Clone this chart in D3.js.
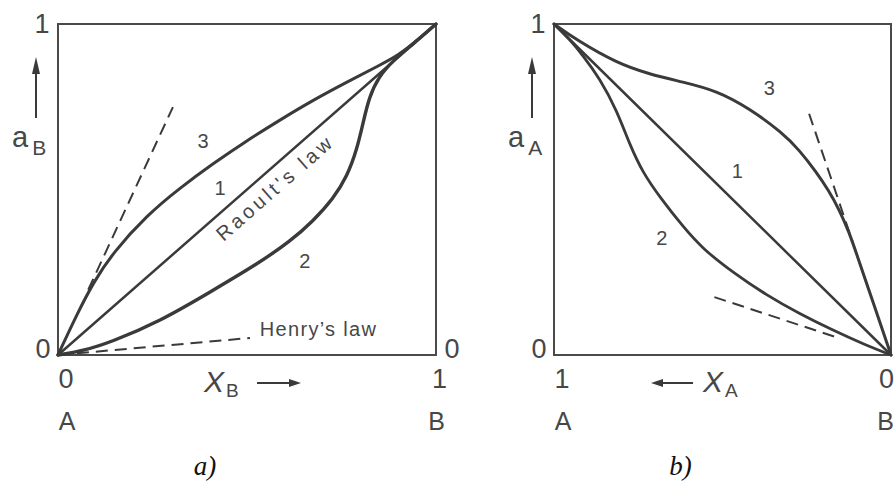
<!DOCTYPE html>
<html>
<head>
<meta charset="utf-8">
<script src="https://cdn.jsdelivr.net/npm/d3@7"></script>
<style>
  html, body { margin: 0; padding: 0; background: #ffffff; }
  svg { display: block; }
  .lbl { font-family: "Liberation Sans", "DejaVu Sans", Arial, sans-serif; fill: #474747; }
  .cap { font-family: "Liberation Serif", "DejaVu Serif", "Times New Roman", serif; font-style: italic; fill: #111; }
</style>
</head>
<body>
<svg id="chart" width="895" height="484"></svg>
<script>
// ---- Panel (a): activity of B against mole fraction X_B (0 at A, 1 at B) ----
const xTicksA = ["0", "1"];
const yTicksA = ["0", "1"];
const raoultA = [[0, 0], [1, 1]];                       // curve 1
const negDevA = [[0, 0], [0.07, 0.014], [0.138, 0.038], [0.27, 0.102], [0.402, 0.19],
                 [0.53, 0.277], [0.614, 0.343], [0.675, 0.405], [0.728, 0.472], [0.765, 0.54],
                 [0.791, 0.622], [0.807, 0.701], [0.823, 0.779], [0.848, 0.84], [0.886, 0.889],
                 [0.94, 0.94], [1, 1]];                  // curve 2
const posDevA = [[0, 0], [0.05, 0.123], [0.095, 0.222], [0.146, 0.31], [0.235, 0.422],
                 [0.323, 0.505], [0.41, 0.578], [0.5, 0.648], [0.587, 0.71], [0.675, 0.77],
                 [0.765, 0.825], [0.852, 0.876], [0.9, 0.905], [0.95, 0.95], [1, 1]];  // curve 3
const henryLowA = [[0, 0], [0.508, 0.0514]];            // Henry's law tangent of curve 2
const henryHighA = [[0.08, 0.197], [0.304, 0.749]];     // Henry's law tangent of curve 3

// ---- Panel (b): activity of A against mole fraction X_A (1 at A, 0 at B) ----
const xTicksB = ["1", "0"];
const yTicksB = ["0", "1"];
const raoultB = [[1, 1], [0, 0]];
const negDevB = [[1, 1], [0.955, 0.955], [0.914, 0.905], [0.864, 0.835], [0.814, 0.74],
                 [0.775, 0.635], [0.737, 0.552], [0.686, 0.477], [0.618, 0.389], [0.559, 0.321],
                 [0.47, 0.25], [0.37, 0.181], [0.272, 0.125], [0.175, 0.076], [0.08, 0.032], [0, 0]];
const posDevB = [[1, 1], [0.932, 0.951], [0.814, 0.882], [0.716, 0.848], [0.618, 0.825],
                 [0.518, 0.799], [0.42, 0.745], [0.322, 0.671], [0.272, 0.619], [0.222, 0.553],
                 [0.185, 0.497], [0.154, 0.44], [0.124, 0.37], [0.104, 0.311], [0.05, 0.15], [0, 0]];
const henryHighB = [[0.243, 0.729], [0.112, 0.336]];
const henryLowB = [[0.524, 0.175], [0.16, 0.053]];

const curveLabelsA = [["3", 0.384, 0.640], ["1", 0.429, 0.498], ["2", 0.653, 0.278]];
const curveLabelsB = [["3", 0.361, 0.801], ["1", 0.456, 0.550], ["2", 0.680, 0.347]];

const svg = d3.select("#chart");
const ink = "#3a3a3a";

const panels = [
  {
    x: d3.scaleLinear().domain([0, 1]).range([58, 436]),
    y: d3.scaleLinear().domain([0, 1]).range([355, 24]),
    xTicks: xTicksA, yTicks: yTicksA, ends: ["A", "B"],
    curves: [[raoultA, 2.5], [negDevA, 3.4], [posDevA, 3.0]],
    dashes: [henryLowA, henryHighA],
    labels: curveLabelsA,
    yName: "a", ySub: "B", xName: "X", xSub: "B", arrowRight: true, caption: "a)"
  },
  {
    x: d3.scaleLinear().domain([1, 0]).range([554, 891]),
    y: d3.scaleLinear().domain([0, 1]).range([355, 24]),
    xTicks: xTicksB, yTicks: yTicksB, ends: ["A", "B"],
    curves: [[raoultB, 2.5], [negDevB, 2.8], [posDevB, 3.0]],
    dashes: [henryHighB, henryLowB],
    labels: curveLabelsB,
    yName: "a", ySub: "A", xName: "X", xSub: "A", arrowRight: false, caption: "b)"
  }
];

panels.forEach(p => {
  const g = svg.append("g");
  const [x0, x1] = p.x.range();
  const [yb, yt] = p.y.range();
  const left = Math.min(x0, x1), right = Math.max(x0, x1);

  // frame
  g.append("rect")
    .attr("x", left).attr("y", yt)
    .attr("width", right - left).attr("height", yb - yt)
    .attr("fill", "none").attr("stroke", "#4a4a4a").attr("stroke-width", 2);

  const line = d3.line()
    .x(d => p.x(d[0])).y(d => p.y(d[1]))
    .curve(d3.curveBasis);

  // activity curves
  p.curves.forEach(([pts, w]) => {
    g.append("path").attr("d", line(pts))
      .attr("fill", "none").attr("stroke", ink)
      .attr("stroke-width", w).attr("stroke-linecap", "round").attr("stroke-linejoin", "round");
  });

  // limiting-law tangents
  p.dashes.forEach(pts => {
    g.append("path").attr("d", d3.line().x(d => p.x(d[0])).y(d => p.y(d[1]))(pts))
      .attr("fill", "none").attr("stroke", ink).attr("stroke-width", 2)
      .attr("stroke-dasharray", "12,7");
  });

  // curve numbers
  p.labels.forEach(([t, xv, yv]) => {
    g.append("text").attr("class", "lbl")
      .attr("x", p.x(xv)).attr("y", p.y(yv))
      .attr("text-anchor", "middle").attr("dominant-baseline", "middle")
      .attr("font-size", 20).text(t);
  });

  // y tick labels
  g.append("text").attr("class", "lbl").attr("font-size", 27)
    .attr("x", left - 16).attr("y", p.y(1) + 9).attr("text-anchor", "middle").text(p.yTicks[1]);
  g.append("text").attr("class", "lbl").attr("font-size", 27)
    .attr("x", left - 15).attr("y", p.y(0) + 3).attr("text-anchor", "middle").text(p.yTicks[0]);

  // x tick labels and component names (kept inside the page on the right)
  const rightEdge = Math.min(right + 11, 894);
  g.append("text").attr("class", "lbl").attr("font-size", 27)
    .attr("x", left + 8).attr("y", yb + 33).attr("text-anchor", "middle").text(p.xTicks[0]);
  g.append("text").attr("class", "lbl").attr("font-size", 27)
    .attr("x", rightEdge).attr("y", yb + 33).attr("text-anchor", "end").text(p.xTicks[1]);
  g.append("text").attr("class", "lbl").attr("font-size", 25)
    .attr("x", left + 9).attr("y", yb + 75).attr("text-anchor", "middle").text(p.ends[0]);
  g.append("text").attr("class", "lbl").attr("font-size", 25)
    .attr("x", Math.min(right + 9, 894)).attr("y", yb + 75).attr("text-anchor", "end").text(p.ends[1]);

  // y axis name with upward arrow
  const ax = left - 22;
  g.append("line").attr("x1", ax).attr("x2", ax).attr("y1", yt + 94).attr("y2", yt + 46)
    .attr("stroke", ink).attr("stroke-width", 2);
  g.append("path")
    .attr("d", `M${ax},${yt + 33} L${ax - 4},${yt + 50} L${ax + 4},${yt + 50} Z`)
    .attr("fill", ink);
  const yl = g.append("text").attr("class", "lbl")
    .attr("x", left - 46).attr("y", yt + 123);
  yl.append("tspan").attr("font-size", 29).text(p.yName);
  yl.append("tspan").attr("font-size", 21).attr("dx", 4).attr("dy", 8).text(p.ySub);

  // x axis name with direction arrow
  const ay = yb + 28;
  if (p.arrowRight) {
    const xl = g.append("text").attr("class", "lbl").attr("x", left + 146).attr("y", yb + 37);
    xl.append("tspan").attr("font-size", 30).attr("font-style", "italic").text(p.xName);
    xl.append("tspan").attr("font-size", 19).attr("dx", 2).attr("dy", 5).text(p.xSub);
    g.append("line").attr("x1", left + 199).attr("x2", left + 234).attr("y1", ay).attr("y2", ay)
      .attr("stroke", ink).attr("stroke-width", 2);
    g.append("path")
      .attr("d", `M${left + 243},${ay} L${left + 231},${ay - 4} L${left + 231},${ay + 4} Z`)
      .attr("fill", ink);
  } else {
    const xl = g.append("text").attr("class", "lbl").attr("x", left + 149).attr("y", yb + 37);
    xl.append("tspan").attr("font-size", 30).attr("font-style", "italic").text(p.xName);
    xl.append("tspan").attr("font-size", 19).attr("dx", 2).attr("dy", 5).text(p.xSub);
    g.append("line").attr("x1", left + 107).attr("x2", left + 139).attr("y1", ay).attr("y2", ay)
      .attr("stroke", ink).attr("stroke-width", 2);
    g.append("path")
      .attr("d", `M${left + 97},${ay} L${left + 109},${ay - 4} L${left + 109},${ay + 4} Z`)
      .attr("fill", ink);
  }

  // caption
  g.append("text").attr("class", "cap").attr("font-size", 27)
    .attr("x", (left + right) / 2 - 42).attr("y", yb + 120)
    .attr("text-anchor", "middle").text(p.caption);
});

// panel (a) annotations
const pa = panels[0];
svg.append("text").attr("class", "lbl").attr("font-size", 27)
  .attr("x", pa.x(1) + 16).attr("y", pa.y(0) + 3).attr("text-anchor", "middle").text("0");

svg.append("text").attr("class", "lbl").attr("font-size", 20)
  .attr("text-anchor", "middle").attr("dominant-baseline", "middle")
  .attr("textLength", 146).attr("lengthAdjust", "spacing")
  .attr("transform", `translate(${pa.x(0.574)},${pa.y(0.499)}) rotate(-41.2)`)
  .text("Raoult's law");

svg.append("text").attr("class", "lbl").attr("font-size", 20)
  .attr("x", pa.x(0.534)).attr("y", pa.y(0.058))
  .attr("textLength", 116).attr("lengthAdjust", "spacing")
  .text("Henry\u2019s law");
</script>
</body>
</html>
